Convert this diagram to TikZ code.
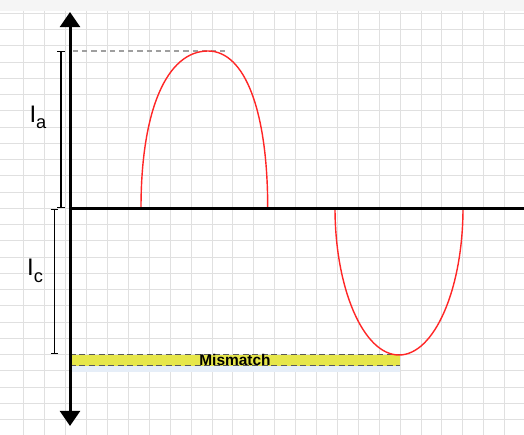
\documentclass[tikz,border=0pt]{standalone}
\usepackage{fontspec}
\setmainfont{Liberation Sans}
\usetikzlibrary{arrows.meta,positioning}
\definecolor{GridGray}{HTML}{E0E0E0}
\definecolor{WaveRed}{HTML}{FF2626}
\definecolor{BandYellow}{HTML}{E6E64A}
\definecolor{ShadowBlue}{HTML}{E6EEF8}

\begin{document}
\begin{tikzpicture}[x=0.25mm,y=-0.25mm,>={Triangle[length=3.8mm,width=5mm]},
 axis/.style={line width=0.75mm},
 wave/.style={draw=WaveRed,line width=0.35mm},
 dimbar/.style={line width=0.3mm,{Bar[width=1.8mm]}-{Bar[width=1.8mm]}},
 guide/.style={draw=gray!75,line width=0.35mm,dash pattern=on 1.3mm off 1mm},
 bandline/.style={draw=black!65,line width=0.3mm,dash pattern=on 1.5mm off 0.9mm},
 band/.style={fill=BandYellow,minimum width=82.5mm,minimum height=2.65mm,inner sep=0pt},
 lbl/.style={font=\fontsize{17}{17}\selectfont,inner sep=0pt}]
 \useasboundingbox[fill=white] (0,0) rectangle (524,435);
 \fill[gray!8] (0,0) rectangle (524,11);
 \foreach \i in {1,...,24}
  \draw[GridGray,line width=0.25mm] (3+20.9*\i,11) -- (3+20.9*\i,435);
 \foreach \j in {0,...,25}
  \draw[GridGray,line width=0.25mm] (0,13.3+16.25*\j) -- (524,13.3+16.25*\j);

 \node[band] (band) at (235,360.3) {};
 \fill[ShadowBlue] (band.south west) rectangle ([yshift=-1.5mm]band.south east);
 \draw[bandline] (band.north west) -- (band.north east);
 \draw[bandline] (band.south west) -- (band.south east);
 \node[font=\bfseries\fontsize{11}{11}\selectfont,inner sep=0pt] (mm) at (band.center) {Mismatch};

 \coordinate (g1) at (73,51);
 \coordinate (g2) at (228,51);
 \draw[guide] (g1) -- (g2);

 \draw[wave] (141,208) .. controls (141,111) and (166.5,51) .. (208,51)
  .. controls (245,51) and (267.7,111) .. (267.7,208);
 \draw[wave] (335,208) .. controls (335,289) and (363.7,355) .. (399,355)
  .. controls (434.3,355) and (463,289) .. (463,208);

 \coordinate (top) at (70,12);
 \coordinate (bot) at (70,426);
 \coordinate (o) at (70,208.3);
 \coordinate (east) at (524,208.3);
 \draw[axis,<->] (bot) -- (top);
 \draw[line width=0.65mm] (o) -- (east);

 \coordinate (a1) at (61,51);
 \coordinate (a2) at (61,207.7);
 \coordinate (c1) at (54.3,209);
 \coordinate (c2) at (54.3,354.3);
 \draw[dimbar] (a1) -- (a2);
 \draw[dimbar] (c1) -- (c2);

 \node[lbl] (ia) at (38,117.5) {I\raisebox{-4.5pt}{\fontsize{13}{13}\selectfont a}};
 \node[lbl] (ic) at (35,271) {I\raisebox{-4.5pt}{\fontsize{13}{13}\selectfont c}};
\end{tikzpicture}
\end{document}
